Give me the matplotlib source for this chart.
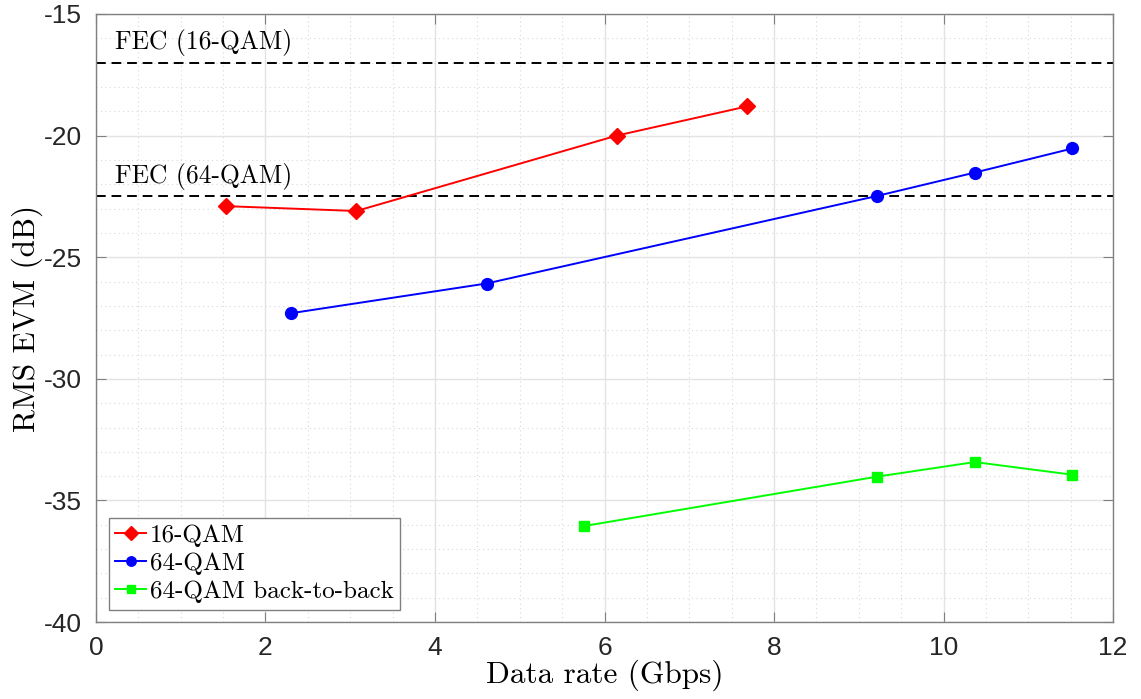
import matplotlib
matplotlib.use("Agg")
import matplotlib.pyplot as plt
from matplotlib.ticker import MultipleLocator, FuncFormatter

# Data
rate_16qam = [1.536, 3.072, 6.144, 7.68]
evm_16qam = [-22.9, -23.1, -20.0, -18.8]
rate_64qam = [2.304, 4.608, 9.216, 10.368, 11.52]
evm_64qam = [-27.3, -26.08, -22.48, -21.52, -20.53]
rate_b2b = [5.76, 9.216, 10.368, 11.52]
evm_b2b = [-36.05, -34.02, -33.42, -33.94]
fec_levels = [-17.0, -22.5]
fec_labels = ["FEC (16-QAM)", "FEC (64-QAM)"]
series_labels = ["16-QAM", "64-QAM", "64-QAM back-to-back"]

plt.rcParams['axes.unicode_minus'] = False
serif = 'cmr10'
sans = ['Liberation Sans', 'DejaVu Sans']

fig = plt.figure(figsize=(11.41, 6.99), dpi=100)
ax = fig.add_axes([0.0841, 0.110, 0.8914, 0.870])

ax.set_xlim(0, 12)
ax.set_ylim(-40, -15)

for lvl in fec_levels:
    ax.axhline(lvl, color='black', linestyle=(0, (5, 3)), linewidth=1.4, zorder=2)
ax.text(0.22, fec_levels[0] + 0.28, fec_labels[0], fontfamily=serif, fontsize=18.4, va='bottom', ha='left')
ax.text(0.22, fec_levels[1] + 0.28, fec_labels[1], fontfamily=serif, fontsize=18.4, va='bottom', ha='left')

ax.plot(rate_16qam, evm_16qam, color='#ff0000', marker='D', markersize=8.5, linewidth=1.4,
        label=series_labels[0], zorder=3)
ax.plot(rate_64qam, evm_64qam, color='#0000ff', marker='o', markersize=8.5, linewidth=1.4,
        label=series_labels[1], zorder=3)
ax.plot(rate_b2b, evm_b2b, color='#00ff00', marker='s', markersize=7, linewidth=1.4,
        label=series_labels[2], zorder=3)

ax.xaxis.set_major_locator(MultipleLocator(2))
ax.xaxis.set_minor_locator(MultipleLocator(0.5))
ax.yaxis.set_major_locator(MultipleLocator(5))
ax.yaxis.set_minor_locator(MultipleLocator(1))
ax.xaxis.set_major_formatter(FuncFormatter(lambda v, p: f"{v:g}"))
ax.yaxis.set_major_formatter(FuncFormatter(lambda v, p: f"{v:g}"))

ax.grid(True, which='major', color='#e3e3e3', linewidth=1.0, zorder=0)
ax.grid(True, which='minor', color='#d8d8d8', linestyle=(0, (1, 3)), linewidth=0.8, zorder=0)
ax.set_axisbelow(True)

ax.tick_params(which='major', direction='in', length=7, width=0.8, color='#808080',
               top=True, right=True, labelsize=19, labelcolor='#262626', pad=10)
ax.tick_params(which='minor', length=0, top=True, right=True)
for lab in ax.get_xticklabels() + ax.get_yticklabels():
    lab.set_fontfamily(sans)
for s in ax.spines.values():
    s.set_color('#808080')
    s.set_linewidth(1.0)

ax.set_xlabel("Data rate (Gbps)", fontfamily=serif, fontsize=22.5, labelpad=0)
ax.set_ylabel("RMS EVM (dB)", fontfamily=serif, fontsize=22.5, labelpad=1)

leg = ax.legend(loc='lower left', prop={'family': serif, 'size': 18.1}, frameon=True, fancybox=False,
                edgecolor='#808080', framealpha=1, borderpad=0.25, labelspacing=0.22,
                handlelength=1.25, handletextpad=0.15, borderaxespad=0.5, markerscale=0.8)
leg.get_frame().set_linewidth(1.0)

fig.savefig("out.png", dpi=100)
